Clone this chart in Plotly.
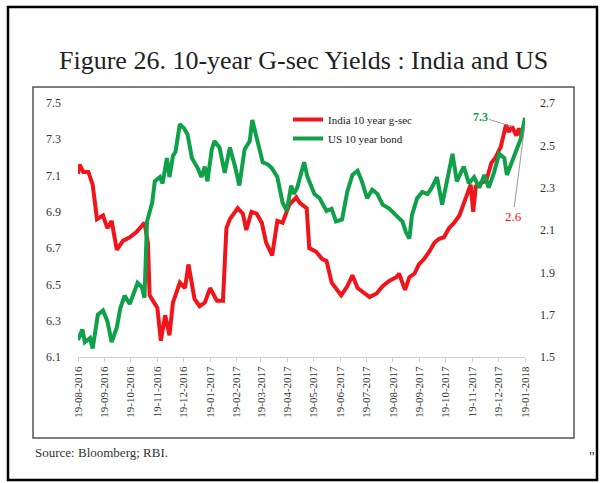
import plotly.graph_objects as go

# ---------------- data ----------------
india_dates = [
    "2016-08-19", "2016-08-21", "2016-08-25", "2016-08-31", "2016-09-05", "2016-09-10",
    "2016-09-17", "2016-09-22", "2016-09-27", "2016-10-03", "2016-10-10", "2016-10-18",
    "2016-10-26", "2016-11-04", "2016-11-08", "2016-11-10", "2016-11-19", "2016-11-23",
    "2016-11-28", "2016-12-03", "2016-12-07", "2016-12-15", "2016-12-21", "2016-12-25",
    "2017-01-01", "2017-01-07", "2017-01-13", "2017-01-19", "2017-01-27", "2017-02-03",
    "2017-02-07", "2017-02-11", "2017-02-20", "2017-02-26", "2017-03-02", "2017-03-08",
    "2017-03-14", "2017-03-20", "2017-03-25", "2017-04-01", "2017-04-07", "2017-04-13",
    "2017-04-21", "2017-04-29", "2017-05-03", "2017-05-11", "2017-05-14", "2017-05-22",
    "2017-05-29", "2017-06-03", "2017-06-09", "2017-06-14", "2017-06-20", "2017-06-27",
    "2017-07-03", "2017-07-09", "2017-07-17", "2017-07-23", "2017-07-31", "2017-08-07",
    "2017-08-15", "2017-08-23", "2017-08-26", "2017-09-02", "2017-09-07", "2017-09-13",
    "2017-09-18", "2017-09-24", "2017-09-30", "2017-10-06", "2017-10-11", "2017-10-17",
    "2017-10-23", "2017-10-29", "2017-11-04", "2017-11-09", "2017-11-13", "2017-11-17",
    "2017-11-20", "2017-11-23", "2017-11-29", "2017-12-05", "2017-12-11", "2017-12-16",
    "2017-12-22", "2017-12-28", "2017-12-31", "2018-01-04", "2018-01-09", "2018-01-12",
    "2018-01-15",
]
india_yield = [
    7.11, 7.16, 7.12, 7.12, 7.05, 6.86,
    6.88, 6.81, 6.85, 6.69, 6.74, 6.76,
    6.79, 6.84, 6.73, 6.44, 6.37, 6.19,
    6.33, 6.22, 6.40, 6.51, 6.48, 6.61,
    6.42, 6.38, 6.40, 6.48, 6.41, 6.41,
    6.81, 6.86, 6.92, 6.89, 6.80, 6.90,
    6.89, 6.84, 6.73, 6.66, 6.85, 6.84,
    6.94, 6.98, 6.95, 6.92, 6.70, 6.68,
    6.64, 6.63, 6.51, 6.48, 6.44, 6.49,
    6.55, 6.48, 6.45, 6.43, 6.45, 6.49,
    6.52, 6.54, 6.56, 6.47, 6.54, 6.56,
    6.61, 6.64, 6.68, 6.73, 6.75, 6.76,
    6.81, 6.84, 6.88, 6.95, 7.00, 7.05,
    6.90, 7.04, 7.06, 7.07, 7.17, 7.20,
    7.26, 7.38, 7.34, 7.37, 7.32, 7.36,
    7.31,
]

us_dates = [
    "2016-08-19", "2016-08-24", "2016-08-27", "2016-09-02", "2016-09-05", "2016-09-11",
    "2016-09-17", "2016-09-22", "2016-09-27", "2016-10-03", "2016-10-07", "2016-10-12",
    "2016-10-18", "2016-10-24", "2016-10-27", "2016-11-01", "2016-11-04", "2016-11-07",
    "2016-11-13", "2016-11-16", "2016-11-22", "2016-11-25", "2016-11-30", "2016-12-03",
    "2016-12-07", "2016-12-10", "2016-12-15", "2016-12-20", "2016-12-24", "2016-12-29",
    "2017-01-05", "2017-01-09", "2017-01-13", "2017-01-16", "2017-01-21", "2017-01-24",
    "2017-01-30", "2017-02-05", "2017-02-11", "2017-02-17", "2017-02-22", "2017-02-28",
    "2017-03-06", "2017-03-09", "2017-03-15", "2017-03-21", "2017-03-27", "2017-04-01",
    "2017-04-07", "2017-04-13", "2017-04-18", "2017-04-23", "2017-04-26", "2017-04-30",
    "2017-05-08", "2017-05-12", "2017-05-20", "2017-05-26", "2017-06-03", "2017-06-09",
    "2017-06-14", "2017-06-21", "2017-06-27", "2017-07-03", "2017-07-09", "2017-07-14",
    "2017-07-20", "2017-07-26", "2017-08-01", "2017-08-07", "2017-08-15", "2017-08-23",
    "2017-08-30", "2017-09-03", "2017-09-07", "2017-09-10", "2017-09-16", "2017-09-22",
    "2017-09-28", "2017-10-03", "2017-10-09", "2017-10-15", "2017-10-21", "2017-10-27",
    "2017-11-01", "2017-11-09", "2017-11-15", "2017-11-21", "2017-11-27", "2017-12-03",
    "2017-12-08", "2017-12-14", "2017-12-20", "2017-12-26", "2017-12-29", "2018-01-04",
    "2018-01-10", "2018-01-14", "2018-01-19",
]
us_yield = [
    1.58, 1.63, 1.57, 1.59, 1.54, 1.70,
    1.72, 1.67, 1.57, 1.64, 1.73, 1.79,
    1.75, 1.81, 1.85, 1.83, 1.78, 2.14,
    2.23, 2.33, 2.35, 2.32, 2.44, 2.35,
    2.45, 2.47, 2.60, 2.58, 2.55, 2.44,
    2.39, 2.35, 2.40, 2.33, 2.48, 2.52,
    2.49, 2.37, 2.49, 2.40, 2.31, 2.48,
    2.52, 2.62, 2.52, 2.42, 2.41, 2.39,
    2.35, 2.23, 2.19, 2.31, 2.27, 2.30,
    2.42, 2.35, 2.27, 2.25, 2.19, 2.20,
    2.14, 2.15, 2.28, 2.36, 2.38, 2.33,
    2.25, 2.29, 2.27, 2.22, 2.20, 2.17,
    2.14, 2.09, 2.06, 2.17, 2.25, 2.28,
    2.27, 2.30, 2.35, 2.22, 2.34, 2.46,
    2.33, 2.40, 2.32, 2.35, 2.30, 2.36,
    2.30, 2.37, 2.46, 2.44, 2.36, 2.42,
    2.49, 2.53, 2.63,
]

x_ticks = ["2016-08-19", "2016-09-19", "2016-10-19", "2016-11-19", "2016-12-19",
           "2017-01-19", "2017-02-19", "2017-03-19", "2017-04-19", "2017-05-19",
           "2017-06-19", "2017-07-19", "2017-08-19", "2017-09-19", "2017-10-19",
           "2017-11-19", "2017-12-19", "2018-01-19"]
x_tick_labels = ["19-08-2016", "19-09-2016", "19-10-2016", "19-11-2016", "19-12-2016",
                 "19-01-2017", "19-02-2017", "19-03-2017", "19-04-2017", "19-05-2017",
                 "19-06-2017", "19-07-2017", "19-08-2017", "19-09-2017", "19-10-2017",
                 "19-11-2017", "19-12-2017", "19-01-2018"]
left_ticks = [6.1, 6.3, 6.5, 6.7, 6.9, 7.1, 7.3, 7.5]
right_ticks = [1.5, 1.7, 1.9, 2.1, 2.3, 2.5, 2.7]

TITLE = "Figure 26. 10-year G-sec Yields : India and US"
SOURCE = "Source: Bloomberg; RBI."

# ---------------- styling ----------------
W, H = 603, 483
L, R, T, B = 78, 525, 103, 357  # plot area in pixels
RED = "#f2141b"
GREEN = "#0fa04a"
SERIF = "Liberation Serif, Times New Roman, serif"


def px(xp):
    return (xp - L) / (R - L)


def py(yp):
    return (B - yp) / (B - T)


fig = go.Figure()
fig.add_trace(go.Scatter(x=india_dates, y=india_yield, mode="lines",
                         name="India 10 year g-sec",
                         line=dict(color=RED, width=4), yaxis="y"))
fig.add_trace(go.Scatter(x=us_dates, y=us_yield, mode="lines",
                         name="US 10 year bond",
                         line=dict(color=GREEN, width=4), yaxis="y2"))

fig.update_layout(
    width=W, height=H,
    margin=dict(l=L, r=W - R, t=T, b=H - B, pad=0),
    paper_bgcolor="white", plot_bgcolor="white",
    showlegend=True,
    font=dict(family=SERIF, color="#333333", size=12),
    legend=dict(x=px(288), y=py(105), xanchor="left", yanchor="top",
                bgcolor="rgba(0,0,0,0)", font=dict(size=11, color="#222"),
                tracegroupgap=0, itemwidth=30),
    xaxis=dict(
        type="date", range=["2016-08-19", "2018-01-19"],
        tickmode="array", tickvals=x_ticks, ticktext=x_tick_labels,
        tickangle=-90, tickfont=dict(size=11, color="#333"),
        showgrid=False, zeroline=False,
        showline=True, linecolor="#d0d0d0", linewidth=1,
        ticks="outside", ticklen=4, tickcolor="#d0d0d0",
    ),
    yaxis=dict(
        range=[6.1, 7.5], tickmode="array", tickvals=left_ticks,
        ticktext=[f"{v:.1f}" for v in left_ticks],
        showgrid=False, zeroline=False, showline=False,
        tickfont=dict(size=12, color="#333"), ticklabelstandoff=16,
    ),
    yaxis2=dict(
        range=[1.5, 2.7], overlaying="y", side="right", tickmode="array",
        tickvals=right_ticks, ticktext=[f"{v:.1f}" for v in right_ticks],
        showgrid=False, zeroline=False, showline=False,
        tickfont=dict(size=12, color="#333"), ticklabelstandoff=14,
    ),
)

# frames
fig.add_shape(type="rect", xref="paper", yref="paper",
              x0=px(8), x1=px(597), y0=py(480), y1=py(7),
              line=dict(color="black", width=2.5), layer="below")
fig.add_shape(type="rect", xref="paper", yref="paper",
              x0=px(33), x1=px(574), y0=py(438), y1=py(87),
              line=dict(color="#555555", width=1.5), layer="below")

# title / source
fig.add_annotation(text=TITLE, xref="paper", yref="paper", x=px(303), y=py(60),
                   xanchor="center", yanchor="middle", showarrow=False,
                   font=dict(size=26, color="#222", family=SERIF))
fig.add_annotation(text=SOURCE, xref="paper", yref="paper", x=px(33), y=py(452),
                   xanchor="left", yanchor="middle", showarrow=False,
                   font=dict(size=13, color="#333", family=SERIF))
fig.add_annotation(text='"', xref="paper", yref="paper", x=px(592), y=py(457),
                   xanchor="center", yanchor="middle", showarrow=False,
                   font=dict(size=14, color="#222", family=SERIF))

# end-value labels
fig.add_annotation(text="<b>7.3</b>", x=india_dates[-4], y=india_yield[-4], xref="x", yref="y",
                   showarrow=True, arrowhead=0, arrowwidth=1, arrowcolor="#999",
                   ax=-32, ay=-10, font=dict(size=12, color=GREEN, family=SERIF))
fig.add_annotation(text="2.6", x=us_dates[-1], y=2.6, xref="x", yref="y2",
                   showarrow=True, arrowhead=0, arrowwidth=1, arrowcolor="#999",
                   ax=-12, ay=92, font=dict(size=13, color=RED, family=SERIF))

fig.write_html("out.html", config={"displayModeBar": False},
               post_script="document.body.style.margin='0';")
